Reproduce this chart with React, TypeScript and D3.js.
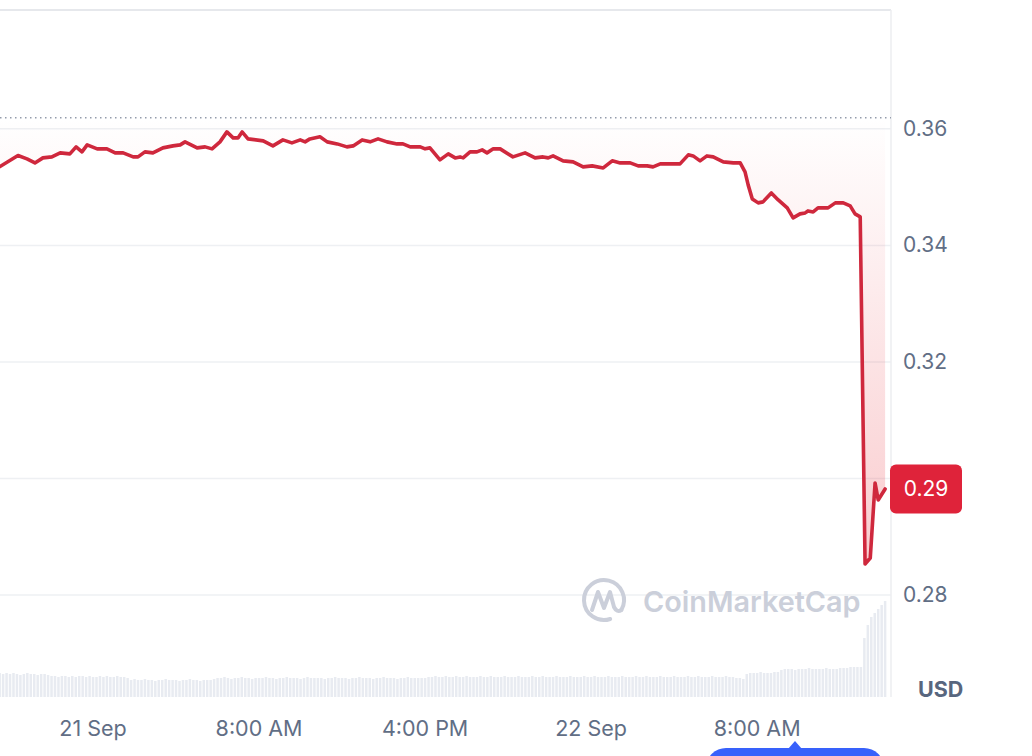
import React from "react";
import * as d3 from "d3";

// minutes since 21 Sep 00:00 (UTC) for each price sample
const priceMinutes = [
  -269, -217, -191, -168, -145, -119, -95, -67, -49, -32, -17, 12, 40, 64, 87, 116, 130, 150, 173, 202,
  231, 252, 266, 301, 324, 344, 367, 387, 405, 419, 431, 448, 492, 520, 549, 575, 599, 613, 627, 656,
  677, 706, 734, 752, 778, 801, 824, 850, 879, 896, 917, 946, 960, 974, 1003, 1027, 1047, 1061, 1070, 1090,
  1110, 1125, 1139, 1157, 1177, 1214, 1249, 1278, 1301, 1316, 1330, 1359, 1388, 1417, 1443, 1475, 1501, 1524, 1553, 1576,
  1602, 1619, 1640, 1668, 1697, 1721, 1735, 1755, 1775, 1793, 1822, 1851, 1871, 1885, 1894, 1906, 1923, 1937, 1961, 1981,
  2007, 2024, 2044, 2059, 2067, 2082, 2096, 2125, 2146, 2169, 2189, 2203, 2218, 2232, 2247, 2261, 2270, 2290,
];

const prices = [
  0.35353, 0.35542, 0.35485, 0.35416, 0.35502, 0.35519, 0.35588, 0.35571, 0.35691, 0.35605, 0.35725, 0.35657, 0.35657, 0.35588, 0.35588, 0.35519, 0.35519, 0.35605, 0.35588, 0.35674,
  0.35708, 0.35725, 0.35777, 0.35674, 0.35691, 0.35657, 0.35777, 0.35948, 0.35845, 0.35845, 0.35948, 0.35828, 0.35794, 0.35708, 0.35811, 0.3576, 0.35811, 0.35777, 0.35828, 0.35863,
  0.35777, 0.35742, 0.35691, 0.35708, 0.35811, 0.35777, 0.35828, 0.35777, 0.35742, 0.35742, 0.35691, 0.35691, 0.35657, 0.35674, 0.35468, 0.35571, 0.35502, 0.35519, 0.35502, 0.35605,
  0.35605, 0.35639, 0.35588, 0.35657, 0.35657, 0.35519, 0.35588, 0.35502, 0.35519, 0.35502, 0.35536, 0.35451, 0.35433, 0.35348, 0.35365, 0.3533, 0.35451, 0.35416, 0.35416, 0.35365,
  0.35365, 0.35348, 0.35399, 0.35399, 0.35399, 0.35554, 0.35536, 0.35451, 0.35536, 0.35519, 0.35433, 0.35416, 0.35416, 0.35262, 0.35039, 0.34798, 0.3473, 0.34747, 0.34901, 0.34781,
  0.34644, 0.34472, 0.34541, 0.34558, 0.34592, 0.34575, 0.34644, 0.34644, 0.3473, 0.3473, 0.34678, 0.34541, 0.34489, 0.28532, 0.28635, 0.29923, 0.29631, 0.2982,
];

// volume bars: one every 10 minutes starting at -270 min (values in millions USD)
const volumeStartMinute = -270;
const volumeStepMinutes = 10;
const volumes = [
  2.4, 2.3, 2.4, 2.3, 2.4, 2.3, 2.2, 2.3, 2.4, 2.3, 2.3, 2.2, 2.3, 2.3, 2.2,
  2.1, 2.1, 2.0, 2.1, 2.1, 2.0, 2.1, 2.0, 2.1, 2.1, 2.0, 2.1, 2.0, 2.0, 2.1, 2.0, 2.1, 2.0, 2.0, 2.1, 2.0, 2.0, 1.9,
  1.7, 1.8, 1.7, 1.7, 1.8, 1.7, 1.7, 1.6, 1.7, 1.7, 1.8, 1.7, 1.7, 1.7, 1.6, 1.7, 1.7, 1.8, 1.7, 1.7, 1.6, 1.7, 1.7, 1.7, 1.8,
  1.9, 1.9, 2.0, 1.9, 1.8, 1.9, 1.9, 2.0, 1.9, 1.9,
  1.8, 1.9, 1.9, 1.9, 2.0, 1.9, 1.9, 1.8, 1.9, 1.9,
  2.0, 1.9, 1.9, 1.9, 1.8, 1.9, 2.0, 1.9, 1.9, 1.9,
  1.9, 1.8, 1.9, 1.9, 2.0, 1.9, 1.9, 1.9, 1.8, 1.9,
  1.9, 2.0, 1.9, 1.9, 1.9, 1.8, 1.9, 1.9, 2.0, 1.9,
  1.9, 1.9, 1.8, 1.9, 1.9, 2.0, 1.9, 1.9, 1.9, 1.9,
  1.9, 2.0,
  2.0, 2.1, 2.0, 2.0, 2.1, 2.0, 2.0, 2.1, 2.0, 2.0,
  2.1, 2.0, 2.0, 2.0, 2.1, 2.0, 2.0, 2.1, 2.0, 2.0,
  2.0, 2.1, 2.0, 2.0, 2.0, 2.1, 2.0, 2.0, 2.0, 2.1,
  2.0, 2.0, 2.1, 2.0, 2.0, 2.0, 2.1, 2.0, 2.0, 2.0,
  2.1, 2.0, 2.0, 2.0, 2.1, 2.0, 2.0, 2.1, 2.0, 2.0,
  2.0, 2.1, 2.0, 2.0, 2.0, 2.1, 2.0, 2.0, 2.0, 2.1,
  2.0, 2.0, 2.1, 2.0, 2.0, 2.0, 2.1, 2.0, 2.0, 2.0,
  2.1, 2.0, 2.0, 2.0, 2.1, 2.0, 2.0, 2.1, 2.0, 2.0,
  2.0, 2.1, 2.0, 2.0, 2.0, 2.1, 2.0, 2.0, 1.9, 1.9,
  1.8,
  2.3, 2.4, 2.4, 2.4, 2.5, 2.4, 2.4, 2.4, 2.5, 2.5,
  2.7, 2.8, 2.8, 2.8, 2.7, 2.8, 2.8, 2.8, 2.9, 2.8, 2.8, 2.8, 2.8, 2.9, 2.8, 2.8, 2.8, 2.9, 2.9, 2.9,
  3.0, 3.0, 3.0, 3.0,
  5.9, 7.2, 8.0, 8.4, 8.8, 9.2, 9.6,
];

const yTicks = [0.28, 0.3, 0.32, 0.34, 0.36];
const yTickLabels = ["0.28", "0.30", "0.32", "0.34", "0.36"];
const xTickMinutes = [0, 480, 960, 1440, 1920];
const xTickLabels = ["21 Sep", "8:00 AM", "4:00 PM", "22 Sep", "8:00 AM"];
const openPrice = 0.3619;
const lastPriceLabel = "0.29";
const currencyLabel = "USD";
const watermark = "CoinMarketCap";

const BASE = Date.UTC(2023, 8, 21, 0, 0);
const toDate = (m: number) => new Date(BASE + m * 60000);

export default function App() {
  const W = 1032;
  const H = 756;
  const plotRight = 891;
  const plotTop = 10;
  const plotBottom = 697;
  const font = "Inter, 'Noto Sans', sans-serif";
  const labelColor = "#616e85";

  const x = d3.scaleUtc().domain([toDate(-269), toDate(2307)]).range([0, plotRight]);
  const y = d3.scaleLinear().domain([0.2625, 0.3804]).range([plotBottom, plotTop]);
  const yVol = d3.scaleLinear().domain([0, 10]).range([plotBottom, plotBottom - 100]);

  const pts = priceMinutes.map((m, i) => ({ t: toDate(m), p: prices[i] }));
  const linePath = d3
    .line<{ t: Date; p: number }>()
    .x((d) => x(d.t))
    .y((d) => y(d.p))(pts) as string;
  const areaPath = d3
    .area<{ t: Date; p: number }>()
    .x((d) => x(d.t))
    .y0(y(openPrice))
    .y1((d) => y(d.p))(pts) as string;

  const step = x(toDate(volumeStepMinutes)) - x(toDate(0));
  const barW = step * 0.72;

  const last = prices[prices.length - 1];
  const boxH = 49;
  const boxY = y(last) - boxH / 2;
  // tick labels hidden behind the last-price badge are not drawn
  const visibleTicks = yTicks
    .map((t, i) => ({ t, label: yTickLabels[i] }))
    .filter((d) => Math.abs(y(d.t) - y(last)) > boxH / 2 + 4);

  return (
    <div style={{ position: "absolute", left: 0, top: 0, width: W, height: H, background: "#fff" }}>
      <svg width={W} height={H} style={{ display: "block" }}>
        <defs>
          <linearGradient id="areaGrad" gradientUnits="userSpaceOnUse" x1="0" x2="0" y1={y(openPrice)} y2={y(d3.min(prices) as number)}>
            <stop offset="0%" stopColor="#ea3943" stopOpacity={0} />
            <stop offset="100%" stopColor="#ea3943" stopOpacity={0.26} />
          </linearGradient>
          <clipPath id="plotClip">
            <rect x={0} y={plotTop} width={plotRight} height={plotBottom - plotTop} />
          </clipPath>
        </defs>

        {/* gridlines */}
        {yTicks.map((t) => (
          <line key={t} x1={0} x2={plotRight} y1={y(t)} y2={y(t)} stroke="#eef0f3" strokeWidth={1.5} />
        ))}
        {/* frame */}
        <line x1={0} x2={plotRight} y1={plotTop} y2={plotTop} stroke="#e6e8ec" strokeWidth={2} />
        <line x1={plotRight} x2={plotRight} y1={plotTop} y2={plotBottom} stroke="#eceef1" strokeWidth={1.5} />

        {/* volume bars */}
        <g clipPath="url(#plotClip)">
          {volumes.map((v, i) => {
            const cx = x(toDate(volumeStartMinute + i * volumeStepMinutes));
            return (
              <rect key={i} x={cx - barW / 2} y={yVol(v)} width={barW} height={plotBottom - yVol(v)} fill="#e8ebf1" />
            );
          })}
        </g>

        {/* watermark */}
        <g transform="translate(604,600)" fill="none" stroke="#cbcfda" strokeWidth={4} strokeLinecap="round" strokeLinejoin="round">
          <path d="M 17.32 10 A 20 20 0 1 0 6.18 19.02" />
          <path d="M -12 10 L -6 -8 L 0 8 L 6 -8 L 10 7 Q 13 13 17.32 10" />
        </g>
        <text x={643} y={612} fontFamily={font} fontSize={28.8} fontWeight={600} fill="#cbcfda">
          {watermark}
        </text>

        {/* open price dotted line */}
        <line x1={0} x2={plotRight} y1={y(openPrice)} y2={y(openPrice)} stroke="#949cab" strokeWidth={1.5} strokeDasharray="1.5,3.5" />

        {/* price area + line */}
        <g clipPath="url(#plotClip)">
          <path d={areaPath} fill="url(#areaGrad)" stroke="none" />
          <path d={linePath} fill="none" stroke="#cf283d" strokeWidth={3.6} strokeLinejoin="round" strokeLinecap="round" />
        </g>

        {/* y labels */}
        {visibleTicks.map((d) => (
          <text key={d.t} x={903} y={y(d.t) + 7} fontFamily={font} fontSize={21} fill={labelColor}>
            {d.label}
          </text>
        ))}

        {/* last price box */}
        <rect x={890} y={boxY} width={72} height={boxH} rx={6} fill="#df233a" />
        <text x={926} y={boxY + boxH / 2 + 7} textAnchor="middle" fontFamily={font} fontSize={21} fill="#fff">
          {lastPriceLabel}
        </text>

        {/* currency */}
        <text x={918} y={697} fontFamily={font} fontSize={21.5} fontWeight={700} fill="#58667e">
          {currencyLabel}
        </text>

        {/* x labels */}
        {xTickMinutes.map((m, i) => (
          <text key={i} x={x(toDate(m))} y={736} textAnchor="middle" fontFamily={font} fontSize={21.5} fill={labelColor}>
            {xTickLabels[i]}
          </text>
        ))}

        {/* blue pill at bottom */}
        <path d="M 788 749 L 795 741 L 802 749 Z" fill="#3861fb" />
        <rect x={706} y={748} width={178} height={40} rx={20} fill="#3861fb" />
      </svg>
    </div>
  );
}
